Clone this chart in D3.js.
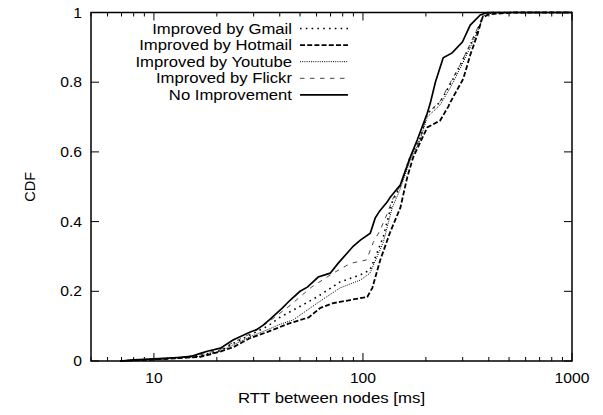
<!DOCTYPE html>
<html>
<head>
<meta charset="utf-8">
<script src="https://cdn.jsdelivr.net/npm/d3@7"></script>
<style>
  body { margin: 0; background: #fff; }
  text { font-family: "Liberation Sans", Arial, sans-serif; fill: #000; }
</style>
</head>
<body>
<div id="chart"></div>
<script>
// data: [RTT ms, CDF]
var gmail = [[6.9,0],[10,0.005],[13,0.009],[16.7,0.016],[20.8,0.03],[23.9,0.05],[28.9,0.075],[35,0.1],[40,0.125],[46.4,0.146],[60.4,0.184],[77.8,0.227],[97,0.247],[108,0.261],[115,0.3],[125,0.356],[138,0.456],[150,0.5],[168,0.585],[188,0.64],[203,0.71],[234,0.743],[265,0.80],[292,0.85],[326,0.907],[356,0.955],[377,0.993],[420,1],[1000,1]];
var hotmail = [[6.9,0],[10,0.004],[13,0.008],[16.7,0.012],[20.8,0.027],[24,0.04],[28.9,0.066],[34.8,0.083],[44.9,0.109],[55,0.125],[62.4,0.152],[72.1,0.166],[86.9,0.175],[104.9,0.184],[110.9,0.21],[121,0.29],[135,0.37],[151,0.44],[163,0.528],[174,0.585],[203,0.67],[234,0.69],[256,0.73],[262,0.743],[302,0.81],[326,0.878],[352,0.935],[372,0.984],[400,0.995],[524,1],[1000,1]];
var youtube = [[6.9,0],[10,0.005],[13,0.008],[16.7,0.014],[20.8,0.028],[23.9,0.046],[28.9,0.07],[35,0.09],[40,0.105],[46.4,0.118],[60.4,0.166],[77.8,0.21],[97,0.232],[108,0.252],[115,0.29],[125,0.34],[138,0.44],[150,0.49],[168,0.575],[188,0.635],[203,0.70],[234,0.735],[265,0.79],[292,0.84],[326,0.90],[356,0.95],[377,0.99],[420,1],[1000,1]];
var flickr = [[6.9,0],[10,0.005],[13,0.009],[16.7,0.018],[20.8,0.033],[23.9,0.053],[28.9,0.078],[35,0.11],[44.9,0.16],[57,0.213],[72,0.252],[86.9,0.28],[104,0.29],[112,0.34],[121,0.376],[130,0.42],[140,0.47],[150,0.5],[168,0.585],[188,0.64],[203,0.71],[234,0.745],[265,0.805],[292,0.85],[326,0.91],[356,0.96],[377,0.995],[420,1],[1000,1]];
var noImprove = [[6.9,0],[8,0.003],[10,0.006],[13,0.01],[15,0.013],[16.7,0.022],[18,0.028],[20.8,0.037],[23.9,0.06],[28.9,0.083],[31,0.09],[33.3,0.103],[36,0.12],[41.1,0.152],[44.9,0.175],[50,0.2],[54.2,0.212],[61.1,0.241],[69.7,0.252],[76,0.28],[84.1,0.31],[90,0.33],[97.2,0.347],[108.4,0.367],[114.4,0.41],[120,0.43],[130.5,0.456],[135,0.47],[150.8,0.505],[168.4,0.585],[181.8,0.634],[203,0.711],[210,0.74],[222,0.8],[242,0.87],[267,0.884],[299,0.915],[326,0.964],[364,0.993],[393,1],[1000,1]];

var names = ["Improved by Gmail", "Improved by Hotmail", "Improved by Youtube", "Improved by Flickr", "No Improvement"];
var xTicks = [10, 100, 1000];
var yTicks = [0, 0.2, 0.4, 0.6, 0.8, 1];

// line styles per series
var styles = [
  {data: gmail,     width: 1.6, dash: "1.6,4.2", color: "#000"},
  {data: hotmail,   width: 1.8, dash: "5,2.2",   color: "#000"},
  {data: youtube,   width: 1,   dash: "1,1.2",   color: "#000"},
  {data: flickr,    width: 0.9, dash: "4.5,5.5", color: "#333"},
  {data: noImprove, width: 1.7, dash: null,      color: "#000"}
];

var W = 603, H = 415;
var margin = {top: 12.5, right: 31, bottom: 54, left: 91};

var svg = d3.select("#chart").append("svg")
    .attr("width", W)
    .attr("height", H);

var x = d3.scaleLog().domain([5, 1000]).range([margin.left, W - margin.right]);
var y = d3.scaleLinear().domain([0, 1]).range([H - margin.bottom, margin.top]);

var x0 = x.range()[0], x1 = x.range()[1], y0 = y.range()[0], y1 = y.range()[1];

// the original text is a bit wider than Arial, so stretch it sideways
function label(g, px, py, txt, anchor, size, sx) {
  return g.append("text")
      .attr("transform", "translate(" + px + "," + py + ") scale(" + sx + ",1)")
      .attr("text-anchor", anchor)
      .style("font-size", size + "px")
      .text(txt);
}

// minor + major ticks, inward, mirrored
var allX = [];
for (var d = 1; d <= 100; d *= 10) {
  for (var k = 1; k <= 9; k++) {
    var v = k * d;
    if (v >= 5 && v <= 1000) allX.push(v);
  }
}
allX.push(1000);

var tickG = svg.append("g").attr("stroke", "#000").attr("stroke-width", 1);
allX.forEach(function(v) {
  var major = xTicks.indexOf(v) >= 0;
  var len = major ? 8 : 4;
  var px = x(v);
  tickG.append("line").attr("x1", px).attr("x2", px).attr("y1", y0).attr("y2", y0 - len);
  tickG.append("line").attr("x1", px).attr("x2", px).attr("y1", y1).attr("y2", y1 + len);
});
yTicks.forEach(function(v) {
  var py = y(v);
  tickG.append("line").attr("x1", x0).attr("x2", x0 + 8).attr("y1", py).attr("y2", py);
  tickG.append("line").attr("x1", x1).attr("x2", x1 - 8).attr("y1", py).attr("y2", py);
});

// tick labels
var tl = svg.append("g");
xTicks.forEach(function(v) {
  label(tl, x(v), y0 + 22, v, "middle", 14.5, 1.08);
});
yTicks.forEach(function(v) {
  label(tl, x0 - 9, y(v) + 5, v, "end", 14.5, 1.08);
});

// axis titles
label(svg, (x0 + x1) / 2, 403, "RTT between nodes [ms]", "middle", 14.5, 1.16);

svg.append("text")
    .attr("transform", "translate(35," + ((y0 + y1) / 2) + ") rotate(-90)")
    .attr("text-anchor", "middle")
    .style("font-size", "14.5px")
    .text("CDF");

// curves
var line = d3.line()
    .x(function(d) { return x(d[0]); })
    .y(function(d) { return y(d[1]); });

svg.append("g").selectAll("path")
    .data(styles)
    .enter().append("path")
    .attr("d", function(d) { return line(d.data); })
    .attr("fill", "none")
    .attr("stroke", function(d) { return d.color; })
    .attr("stroke-width", function(d) { return d.width; })
    .attr("stroke-dasharray", function(d) { return d.dash; });

// frame
svg.append("rect")
    .attr("x", x0).attr("y", y1)
    .attr("width", x1 - x0).attr("height", y0 - y1)
    .attr("fill", "none")
    .attr("stroke", "#000")
    .attr("stroke-width", 1.5);

// legend
var leg = svg.append("g");
names.forEach(function(n, i) {
  var ly = 28.5 + i * 16.6;
  label(leg, 292, ly + 5, n, "end", 14.5, 1.15);
  leg.append("line")
      .attr("x1", 300).attr("x2", 348)
      .attr("y1", ly).attr("y2", ly)
      .attr("stroke", styles[i].color)
      .attr("stroke-width", styles[i].width)
      .attr("stroke-dasharray", styles[i].dash);
});
</script>
</body>
</html>
